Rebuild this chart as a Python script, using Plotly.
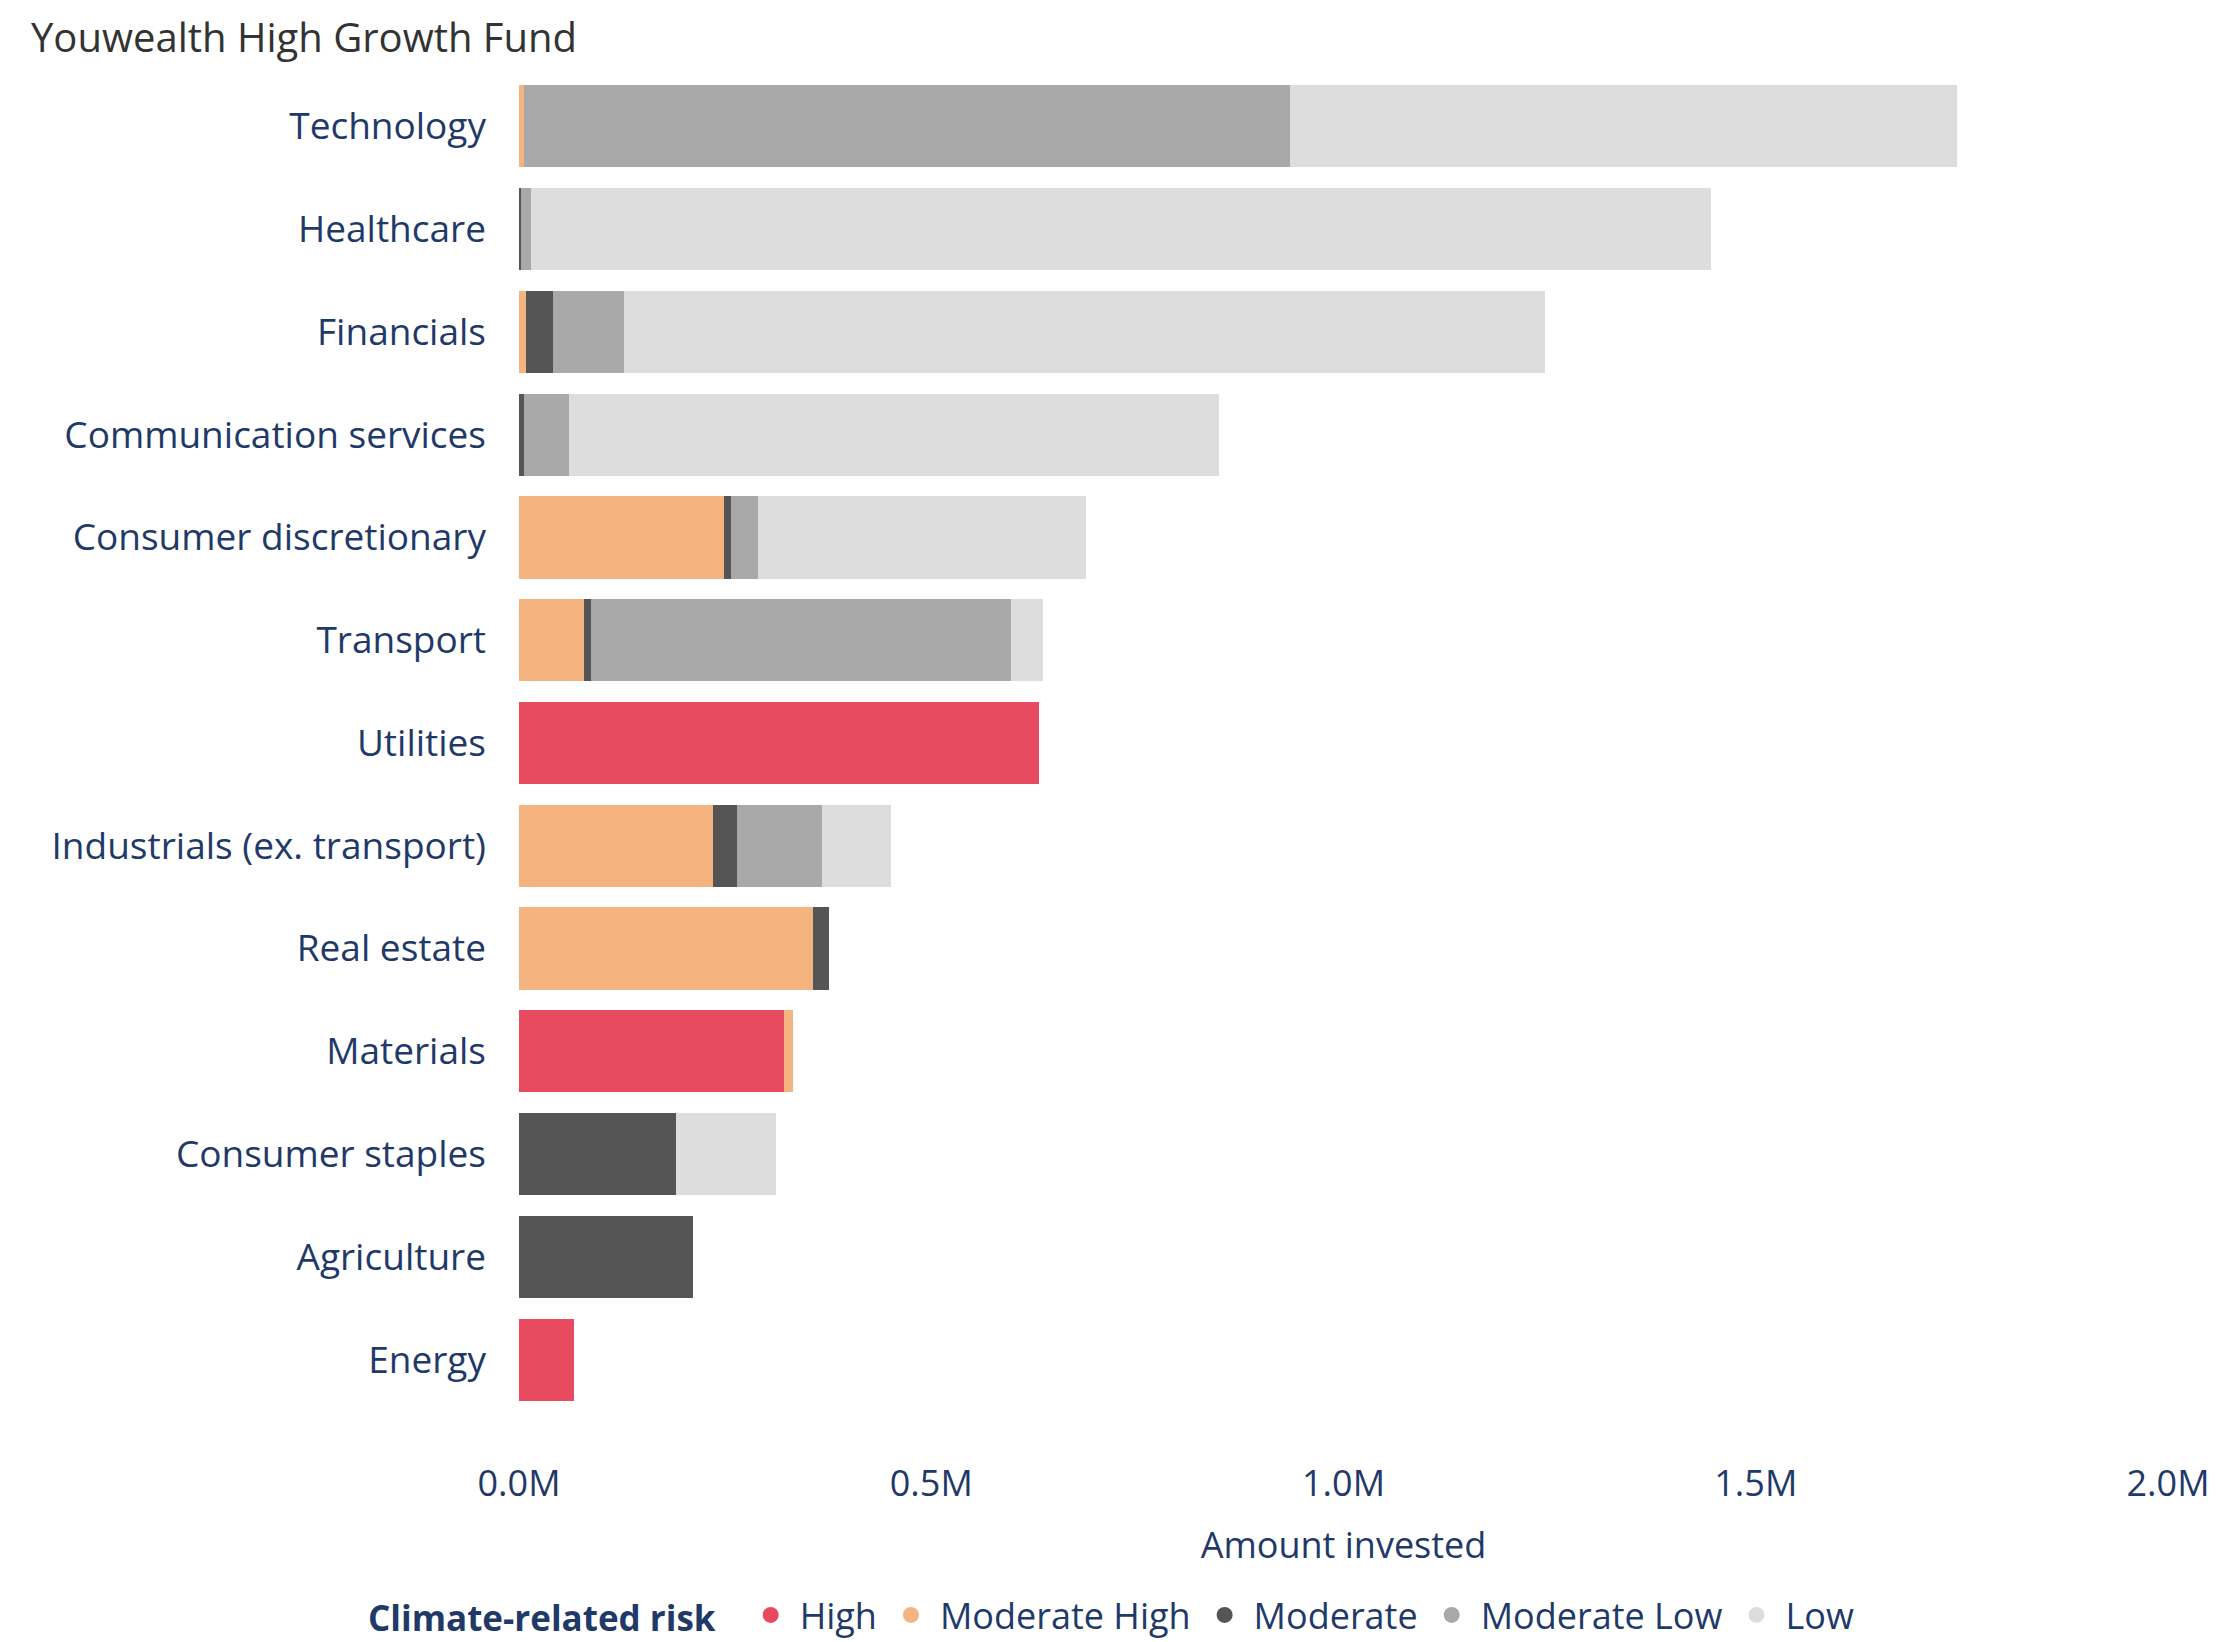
import plotly.graph_objects as go

categories = ["Technology", "Healthcare", "Financials", "Communication services",
              "Consumer discretionary", "Transport", "Utilities", "Industrials (ex. transport)",
              "Real estate", "Materials", "Consumer staples", "Agriculture", "Energy"]

risk_levels = ["High", "Moderate High", "Moderate", "Moderate Low", "Low"]

high          = [0.0,   0.0,   0.0,   0.0,   0.0,   0.0,   0.631, 0.0,   0.0,   0.322, 0.0,   0.0,   0.067]
moderate_high = [0.006, 0.0,   0.009, 0.0,   0.249, 0.079, 0.0,   0.235, 0.357, 0.010, 0.0,   0.0,   0.0]
moderate      = [0.0,   0.003, 0.032, 0.006, 0.008, 0.008, 0.0,   0.029, 0.019, 0.0,   0.190, 0.211, 0.0]
moderate_low  = [0.929, 0.012, 0.086, 0.055, 0.033, 0.510, 0.0,   0.103, 0.0,   0.0,   0.0,   0.0,   0.0]
low           = [0.809, 1.431, 1.117, 0.788, 0.398, 0.039, 0.0,   0.084, 0.0,   0.0,   0.122, 0.0,   0.0]

series = [high, moderate_high, moderate, moderate_low, low]
colors = ["#E84A5F", "#F5B47F", "#555555", "#A9A9A9", "#DDDDDD"]

x_tickvals = [0.0, 0.5, 1.0, 1.5, 2.0]
x_ticktext = ["0.0M", "0.5M", "1.0M", "1.5M", "2.0M"]

FONT = "Open Sans"
NAVY = "#1F3A68"

W, H = 2209, 1634  # page body keeps an 8px margin

fig = go.Figure()
for name, vals, col in zip(risk_levels, series, colors):
    fig.add_trace(go.Bar(
        y=categories, x=[v * 1e6 for v in vals], orientation="h", name=name,
        marker=dict(color=col, line=dict(width=0)), showlegend=False,
    ))
    fig.add_trace(go.Scatter(
        x=[None], y=[None], mode="markers", name=name,
        marker=dict(symbol="circle", size=30, color=col), showlegend=True,
    ))

fig.update_layout(
    width=W, height=H,
    barmode="stack", bargap=0.2,
    plot_bgcolor="white", paper_bgcolor="white",
    margin=dict(l=511, r=49, t=67, b=231, autoexpand=False),
    font=dict(family=FONT, color=NAVY, size=36),
    title=dict(text="Youwealth High Growth Fund", x=23 / W, xanchor="left",
               y=1 - 30 / H, yanchor="middle", xref="container", yref="container",
               font=dict(family=FONT, size=40, color="#333333")),
    legend=dict(orientation="h", xref="container", yref="container",
                x=0.5, xanchor="center", y=27 / H, yanchor="middle",
                traceorder="normal",
                title=dict(text="<b>Climate-related risk</b>  ", font=dict(size=35, color=NAVY)),
                font=dict(size=36, color=NAVY), itemsizing="trace",
                itemwidth=48, tracegroupgap=0),
)
fig.update_yaxes(
    categoryorder="array", categoryarray=categories[::-1],
    showgrid=False, zeroline=False, showline=False, ticks="",
    ticklabelstandoff=32, tickfont=dict(size=37, color=NAVY),
)
fig.update_xaxes(
    range=[0, 2.0e6], tickvals=[v * 1e6 for v in x_tickvals], ticktext=x_ticktext,
    showgrid=False, zeroline=False, showline=False, ticks="",
    ticklabelstandoff=48, tickfont=dict(size=36, color=NAVY),
    title=dict(text="Amount invested", standoff=26, font=dict(size=36, color=NAVY)),
)

fig.write_html("out.html")
